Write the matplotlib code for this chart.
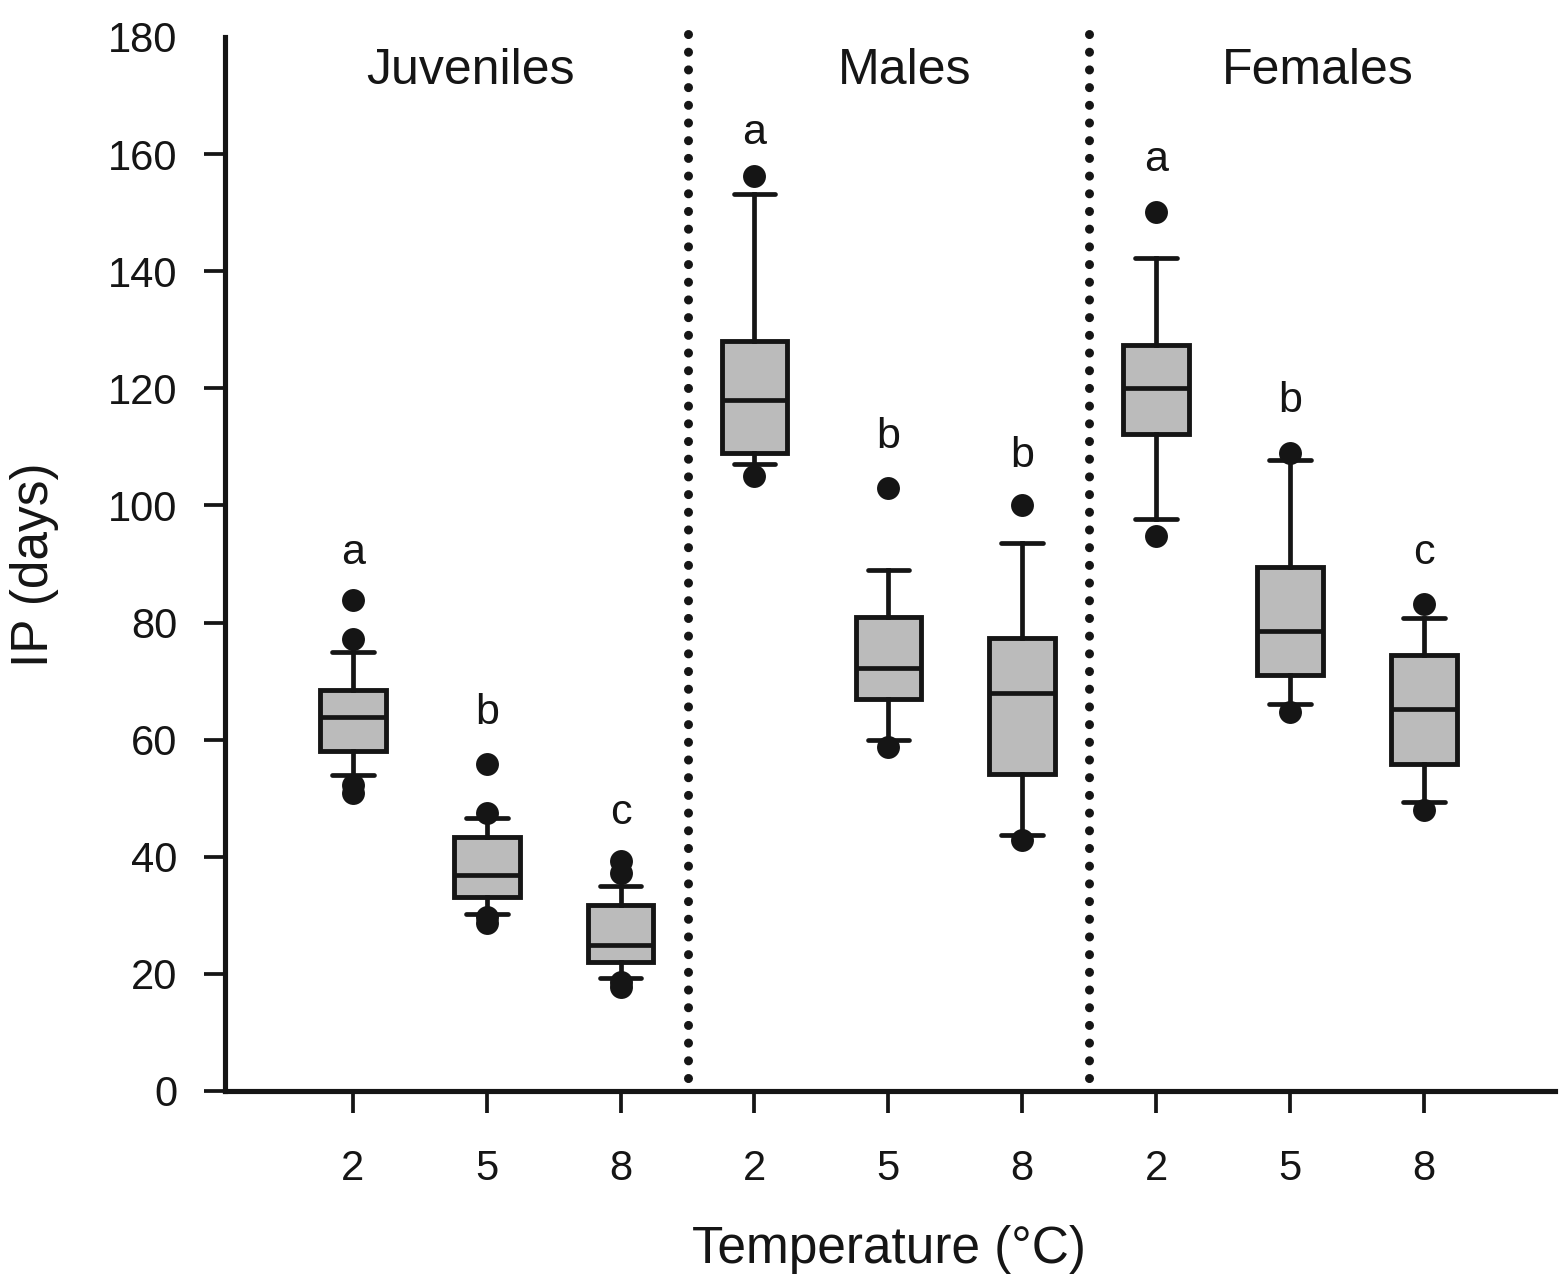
import matplotlib
matplotlib.use("Agg")
import matplotlib.pyplot as plt

plt.rcParams['font.family'] = ['Liberation Sans', 'DejaVu Sans']

# box stats (IP in days)
positions = [1, 2, 3, 4, 5, 6, 7, 8, 9]
temp_labels = ['2', '5', '8', '2', '5', '8', '2', '5', '8']
whisker_low = [53.9, 30.2, 19.3, 107.1, 59.9, 43.7, 97.7, 66.0, 49.3]
q1 = [58.0, 33.1, 22.0, 109.0, 66.9, 54.2, 112.2, 71.0, 55.9]
median = [63.8, 36.8, 24.9, 118.0, 72.2, 67.9, 120.1, 78.5, 65.3]
q3 = [68.4, 43.3, 31.7, 128.1, 80.9, 77.3, 127.4, 89.4, 74.4]
whisker_high = [74.9, 46.6, 35.0, 153.2, 89.0, 93.5, 142.3, 107.8, 80.7]
outliers = [
    [83.9, 77.1, 52.2, 50.8],
    [55.9, 47.4, 29.7, 28.7],
    [39.2, 37.2, 18.6, 17.7],
    [156.2, 105.1],
    [103.0, 58.7],
    [100.0, 42.8],
    [150.1, 94.8],
    [109.0, 64.8],
    [83.1, 47.9],
]

# significance letters
letters = ['a', 'b', 'c', 'a', 'b', 'b', 'a', 'b', 'c']
letter_y = [91.8, 64.5, 47.4, 163.6, 111.6, 108.5, 159.0, 117.9, 91.8]

groups = ['Juveniles', 'Males', 'Females']
group_x = [1.88, 5.12, 8.21]
group_y = 174.2
dividers = [3.5, 6.5]

stats = []
for i in range(len(positions)):
    stats.append({'whislo': whisker_low[i], 'q1': q1[i], 'med': median[i],
                  'q3': q3[i], 'whishi': whisker_high[i], 'fliers': outliers[i]})

fig = plt.figure(figsize=(15.59, 12.88), dpi=100)
ax = fig.add_axes([0.1443, 0.1530, 0.8531, 0.8183])

ink = '#151515'
ax.bxp(stats, positions=positions, widths=0.49, capwidths=0.31, patch_artist=True,
       boxprops=dict(facecolor='#bbbbbb', edgecolor=ink, linewidth=3.5),
       medianprops=dict(color=ink, linewidth=3.4),
       whiskerprops=dict(color=ink, linewidth=3.4),
       capprops=dict(color=ink, linewidth=3.4, solid_capstyle='round'),
       flierprops=dict(marker='o', markerfacecolor=ink, markeredgecolor='none',
                       markersize=16.5))

for xd in dividers:
    ax.plot([xd, xd], [180.5, 0], color=ink, linewidth=6.5,
            linestyle=(0, (0.01, 1.95)), dash_capstyle='round', clip_on=False)

for x, t, y in zip(positions, letters, letter_y):
    ax.text(x, y, t, ha='center', va='center', fontsize=31, color=ink)

for x, g in zip(group_x, groups):
    ax.text(x, group_y, g, ha='center', va='center', fontsize=36, color=ink)

ax.set_xlim(0.044, 9.98)
ax.set_ylim(0, 180)
ax.set_xticks(positions)
ax.set_xticklabels(temp_labels)
ax.set_yticks(range(0, 181, 20))

ax.spines['top'].set_visible(False)
ax.spines['right'].set_visible(False)
for s in ['left', 'bottom']:
    ax.spines[s].set_linewidth(3.7)
    ax.spines[s].set_color(ink)

ax.tick_params(axis='y', direction='out', length=15, width=2.7, pad=19,
               labelsize=30, colors=ink)
ax.tick_params(axis='x', direction='out', length=16, width=2.7, pad=26,
               labelsize=30, colors=ink)
ax.yaxis.get_major_ticks()[-1].tick1line.set_visible(False)

fig.text(889 / 1559, 1 - 1250 / 1288, 'Temperature (°C)', ha='center', va='center',
         fontsize=37, color=ink)
fig.text(35 / 1559, 1 - 565 / 1288, 'IP (days)', ha='center', va='center',
         rotation=90, fontsize=37, color=ink)

fig.savefig('out.png', dpi=100)
